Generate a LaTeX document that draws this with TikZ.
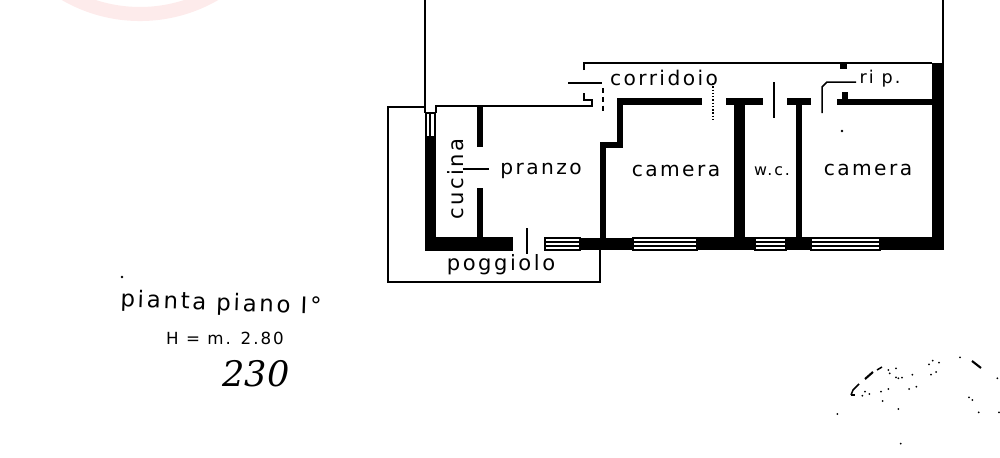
\documentclass[tikz,border=0pt]{standalone}
\usepackage{fontspec}
\newfontfamily\handfont[LetterSpace=12]{DejaVu Sans}
\newfontfamily\numfont{DejaVu Serif}
\definecolor{stampred}{HTML}{FDEBEB}
\tikzset{
  wall/.style={fill=black,draw=none},
  thinline/.style={draw=black,line width=0.85pt},
  speck/.style={fill=black,draw=none},
  roomlabel/.style={inner sep=0pt,font=\handfont\fontsize{11.5}{14}\selectfont},
}

\begin{document}
\begin{tikzpicture}[x=0.02cm,y=-0.02cm]
  \useasboundingbox (0,0) rectangle (1000,457);

  % Stamp at the top
  \begin{scope}
    \clip (0,0) rectangle (1000,457);
    \draw[stampred,line width=8pt] (140,-135) circle (149);
  \end{scope}

  % Thick walls
  \foreach \xa/\ya/\xb/\yb in {
    425/137/436/251, 425/237/513/251, 477/107/483/147, 477/188/483/238,
    580/238/633/250, 697/237/755/250, 786/237/811/250, 880/237/944/250,
    932/63/944/250, 600/143/606/238, 600/142/622/148, 617/98/623/148,
    617/98/702/105, 726/98/763/105, 734/105/745/238, 787/98/811/105,
    796/105/802/238, 837/99/932/105, 842/92/848/100, 840/63/847/69}
    \fill[wall] (\xa,\ya) rectangle (\xb,\yb);

  % Windows
  \foreach \xa/\xb in {545/580, 633/697, 755/786, 811/880} {
    \draw[thinline] (\xa,238) rectangle (\xb,250);
    \draw[thinline] (\xa,242) -- (\xb,242);
    \draw[thinline] (\xa,246) -- (\xb,246);
  }
  \draw[thinline] (426,113) rectangle (435,137);
  \draw[thinline] (430,113) -- (430,137);

  % Thin outlines
  \draw[thinline] (425,0) -- (425,113);
  \draw[thinline] (943,0) -- (943,63);
  \draw[thinline] (584,70) -- (584,63) -- (932,63);
  \draw[thinline] (425,107) -- (388,107) -- (388,282) -- (600,282) -- (600,250);
  \draw[thinline] (436,113) -- (436,106) -- (592,106) -- (592,100) -- (584,100) -- (584,93);

  % Doors and leaders
  \draw[thinline] (527,228) -- (527,254);
  \draw[thinline,densely dashed] (603,88) -- (603,113);
  \draw[thinline] (568,83) -- (602,83);
  \draw[thinline,densely dotted] (713,83) -- (713,120);
  \draw[thinline] (774,82) -- (774,118);
  \draw[thinline] (822,113) -- (822,87) -- (827,82) -- (856,82);
  \draw[thinline] (463,169) -- (489,169);

  % Room labels
  \node[roomlabel] (corridoio) at (664,78) {corridoio};
  \node[roomlabel,font=\handfont\fontsize{10}{12}\selectfont] (rip) at (880,79) {ri p.};
  \node[roomlabel] (pranzo) at (541,171) {pranzo};
  \node[roomlabel] (camerasx) at (676,171) {camera};
  \node[roomlabel,font=\handfont\fontsize{9}{11}\selectfont] (wc) at (772,171) {w.c.};
  \node[roomlabel] (cameradx) at (868,170) {camera};
  \node[roomlabel,font=\handfont\fontsize{12}{14}\selectfont,rotate=90] (cucina) at (456,179) {cucina};
  \node[roomlabel,font=\handfont\fontsize{12}{14}\selectfont] (poggiolo) at (501,265) {poggiolo};

  % Caption
  \node[roomlabel,font=\handfont\fontsize{13}{15}\selectfont,rotate=-2] (pianta) at (221,304) {pianta piano I°};
  \node[roomlabel,font=\handfont\fontsize{9.5}{11}\selectfont] (altezza) at (225,338) {H = m. 2.80};
  \node[inner sep=0pt,font=\numfont\itshape\fontsize{20}{24}\selectfont] (numero) at (256,374) {230};

  % Specks
  \fill[speck] (122,277) circle (1.3);
  \fill[speck] (842,131) circle (1.3);
  \foreach \sx/\sy in {52/222, 127/167, 135/155, 148/162, 183/155, 188/183, 205/147,
    235/207, 242/311, 267/147, 289/140, 277/104, 228/85, 209/100, 205/90, 228/112,
    235/115, 246/113, 327/73, 338/62, 357/68, 333/104, 348/96, 420/52, 447/172,
    457/180, 476/217, 537/217, 532/115}
    \fill[speck] ({820+\sx/3},{340+\sy/3}) circle (1);
  \draw[thinline] (851,395) -- (853,390) -- (859,384);
  \draw[thinline] (851,395) -- (855,395);
  \draw[line width=1.2pt] (865,379) -- (873,372);
  \draw[thinline] (877,370) -- (882,367);
  \draw[line width=1.2pt] (972,361) -- (981,368);
\end{tikzpicture}
\end{document}
